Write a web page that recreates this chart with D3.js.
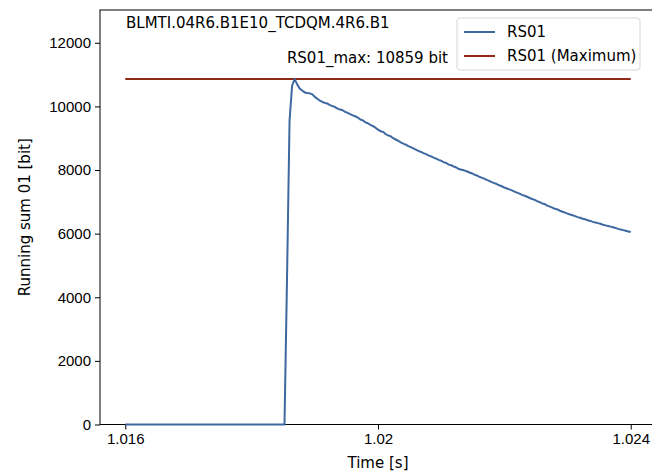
<!DOCTYPE html>
<html>
<head>
<meta charset="utf-8">
<script src="https://cdn.jsdelivr.net/npm/d3@7"></script>
<style>
  body { margin: 0; background: #fff; }
  svg { display: block; font-family: "DejaVu Sans", sans-serif; }
  .tick text { font-size: 15px; fill: #000; }
</style>
</head>
<body>
<script>
// Dati
const deviceName = "BLMTI.04R6.B1E10_TCDQM.4R6.B1";
const seriesName = "RS01";
const sampleStart = 1.016;      // s
const samplePeriod = 0.00004;   // s (40 us)
const rs01 = [
  0, 0, 0, 0, 0, 0, 0, 0, 0, 0, 0, 0, 0, 0, 0, 0,
  0, 0, 0, 0, 0, 0, 0, 0, 0, 0, 0, 0, 0, 0, 0, 0,
  0, 0, 0, 0, 0, 0, 0, 0, 0, 0, 0, 0, 0, 0, 0, 0,
  0, 0, 0, 0, 0, 0, 0, 0, 0, 0, 0, 0, 0, 0, 0, 0,
  4600, 9550, 10650, 10859,
  10700, 10560, 10500, 10440, 10420, 10410, 10380, 10300, 10240, 10180,
  10140, 10110, 10090, 10040, 10010, 9980, 9930, 9900, 9880, 9830, 9800, 9760, 9720,
  9690, 9650, 9590, 9560, 9500, 9470, 9420, 9380, 9330, 9270, 9220,
  9200, 9130, 9090, 9060, 9000, 8960, 8920, 8870, 8830,
  8800, 8750, 8720, 8680, 8640, 8600, 8570, 8530, 8500, 8460, 8430,
  8390, 8360, 8320, 8290, 8250, 8220, 8170, 8150, 8110, 8080, 8030, 8010, 7990,
  7960, 7930, 7900, 7860, 7830, 7790, 7760, 7730, 7690, 7660, 7620, 7590, 7560, 7520, 7490, 7450, 7420,
  7390, 7360, 7320, 7290, 7260, 7220, 7190, 7160, 7120, 7090, 7060, 7020, 6990, 6950, 6930, 6880,
  6850, 6820, 6780, 6760, 6720, 6690,
  6660, 6630, 6600, 6580, 6550, 6520, 6500, 6470, 6450, 6420,
  6400, 6370, 6350, 6330, 6310, 6280, 6260, 6240, 6220, 6200, 6180, 6150, 6130, 6110, 6090, 6070, 6050
];
const rs01Max = 10859;
const xTicks = [1.016, 1.02, 1.024];
const xTickLabels = ["1.016", "1.02", "1.024"];
const yTicks = [0, 2000, 4000, 6000, 8000, 10000, 12000];

const data = rs01.map((v, i) => ({ t: sampleStart + i * samplePeriod, v }));

const width = 652;
const height = 472;
const marginLeft = 100;
const marginTop = 10;
const plotRight = 656;    // il bordo destro esce dall'immagine
const plotBottom = 424.5;
const fontSize = 15;

const blue = "#3e68a0";
const red = "#8e2a17";

const tMin = d3.min(data, d => d.t), tMax = d3.max(data, d => d.t);
const pad = (tMax - tMin) * 0.05;

const x = d3.scaleLinear()
  .domain([tMin - pad, tMax + pad])
  .range([marginLeft, plotRight]);

const y = d3.scaleLinear()
  .domain([0, rs01Max * 1.2])
  .range([plotBottom, marginTop]);

const svg = d3.select("body").append("svg")
  .attr("width", width)
  .attr("height", height);

// Assi
svg.append("g")
  .attr("transform", "translate(0," + plotBottom + ")")
  .call(d3.axisBottom(x).tickValues(xTicks).tickFormat((d, i) => xTickLabels[i]).tickSize(5).tickPadding(4))
  .call(g => g.select(".domain").remove())
  .call(g => g.selectAll(".tick line").attr("stroke", "#000"));

svg.append("g")
  .attr("transform", "translate(" + marginLeft + ",0)")
  .call(d3.axisLeft(y).tickValues(yTicks).tickFormat(d3.format("d")).tickSize(5).tickPadding(4))
  .call(g => g.select(".domain").remove())
  .call(g => g.selectAll(".tick line").attr("stroke", "#000"));

// Cornice
svg.append("rect")
  .attr("x", marginLeft)
  .attr("y", marginTop)
  .attr("width", plotRight - marginLeft)
  .attr("height", plotBottom - marginTop)
  .attr("fill", "none")
  .attr("stroke", "#000")
  .attr("stroke-width", 1);

// Linea del massimo
svg.append("line")
  .attr("x1", x(tMin))
  .attr("x2", x(tMax))
  .attr("y1", y(rs01Max))
  .attr("y2", y(rs01Max))
  .attr("stroke", red)
  .attr("stroke-width", 2);

// Serie RS01
svg.append("path")
  .datum(data)
  .attr("fill", "none")
  .attr("stroke", blue)
  .attr("stroke-width", 2)
  .attr("stroke-linejoin", "round")
  .attr("d", d3.line().x(d => x(d.t)).y(d => y(d.v)));

// Testi
svg.append("text")
  .attr("x", 126)
  .attr("y", 28)
  .attr("font-size", fontSize)
  .text(deviceName);

svg.append("text")
  .attr("x", 448)
  .attr("y", 63)
  .attr("text-anchor", "end")
  .attr("font-size", fontSize)
  .text(seriesName + "_max: " + rs01Max + " bit");

svg.append("text")
  .attr("x", (marginLeft + plotRight) / 2)
  .attr("y", 468)
  .attr("text-anchor", "middle")
  .attr("font-size", fontSize)
  .text("Time [s]");

svg.append("text")
  .attr("transform", "translate(30," + (marginTop + plotBottom) / 2 + ") rotate(-90)")
  .attr("text-anchor", "middle")
  .attr("font-size", fontSize)
  .text("Running sum 01 [bit]");

// Legenda
const legend = svg.append("g").attr("transform", "translate(457,18)");
legend.append("rect")
  .attr("width", 183)
  .attr("height", 52)
  .attr("rx", 3)
  .attr("fill", "#fff")
  .attr("fill-opacity", 0.8)
  .attr("stroke", "#d6d6d6");

const legendItems = [
  { label: seriesName, color: blue },
  { label: seriesName + " (Maximum)", color: red }
];
legendItems.forEach((item, i) => {
  const yy = 14 + i * 24;
  legend.append("line")
    .attr("x1", 7).attr("x2", 38)
    .attr("y1", yy).attr("y2", yy)
    .attr("stroke", item.color)
    .attr("stroke-width", 2);
  legend.append("text")
    .attr("x", 50)
    .attr("y", yy + 5)
    .attr("font-size", fontSize)
    .text(item.label);
});
</script>
</body>
</html>
